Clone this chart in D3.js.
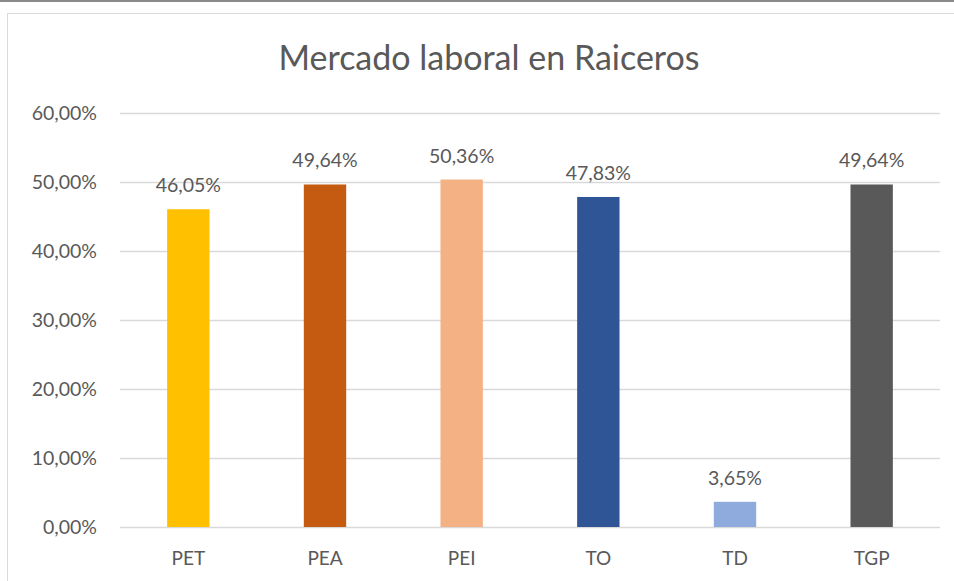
<!DOCTYPE html>
<html>
<head>
<meta charset="utf-8">
<script src="https://cdn.jsdelivr.net/npm/d3@7"></script>
<style>
  body { margin: 0; background: #fff; }
  text { font-family: Lato, "Open Sans", sans-serif; fill: #595959; }
</style>
</head>
<body>
<script>
// datos del grafico
var categorias = ["PET", "PEA", "PEI", "TO", "TD", "TGP"];
var valores = [46.05, 49.64, 50.36, 47.83, 3.65, 49.64];
var colores = ["#FFC000", "#C55A11", "#F4B183", "#2F5597", "#8FAADC", "#595959"];
var ticks = [0, 10, 20, 30, 40, 50, 60];

var width = 954, height = 581;
var margin = {left: 120, right: 14, top: 113, bottom: 54};

var svg = d3.select("body").append("svg")
    .attr("width", width)
    .attr("height", height);

// linea superior y marco
svg.append("rect").attr("x", 0).attr("y", 0).attr("width", width).attr("height", 2).style("fill", "#8a8a8a");
svg.append("rect")
    .attr("x", 7.5).attr("y", 13.5)
    .attr("width", width).attr("height", height)
    .style("fill", "none").style("stroke", "#d9d9d9");

var x = d3.scaleBand()
    .domain(categorias)
    .range([margin.left, width - margin.right])
    .paddingInner(0.69).paddingOuter(0.345);

var y = d3.scaleLinear()
    .domain([0, 60])
    .range([height - margin.bottom, margin.top]);

function pct(v) { return d3.format(".2f")(v).replace(".", ",") + "%"; }

// lineas de cuadricula
svg.append("g").selectAll("line")
    .data(ticks).enter().append("line")
    .attr("x1", margin.left).attr("x2", width - margin.right)
    .attr("y1", function(d){ return Math.round(y(d)) + 0.5; })
    .attr("y2", function(d){ return Math.round(y(d)) + 0.5; })
    .style("stroke", "#d9d9d9").style("stroke-width", 1.5);

svg.append("g").selectAll("text")
    .data(ticks).enter().append("text")
    .attr("x", 97)
    .attr("y", function(d){ return y(d) + 7; })
    .attr("text-anchor", "end")
    .style("font-size", "19.5px")
    .text(pct);

svg.append("g").selectAll("rect")
    .data(valores).enter().append("rect")
    .attr("x", function(d, i){ return x(categorias[i]); })
    .attr("width", x.bandwidth())
    .attr("y", function(d){ return y(d); })
    .attr("height", function(d){ return y(0) - y(d); })
    .style("fill", function(d, i){ return colores[i]; });

svg.append("g").selectAll("text")
    .data(valores).enter().append("text")
    .attr("x", function(d, i){ return x(categorias[i]) + x.bandwidth() / 2; })
    .attr("y", function(d){ return y(d) - 17; })
    .attr("text-anchor", "middle")
    .style("font-size", "19.5px")
    .text(pct);

svg.append("g").selectAll("text")
    .data(categorias).enter().append("text")
    .attr("x", function(d){ return x(d) + x.bandwidth() / 2; })
    .attr("y", 565)
    .attr("text-anchor", "middle")
    .style("font-size", "19px")
    .text(function(d){ return d; });

svg.append("text")
    .attr("x", 489).attr("y", 70)
    .attr("text-anchor", "middle")
    .style("font-size", "34px")
    .text("Mercado laboral en Raiceros");
</script>
</body>
</html>
